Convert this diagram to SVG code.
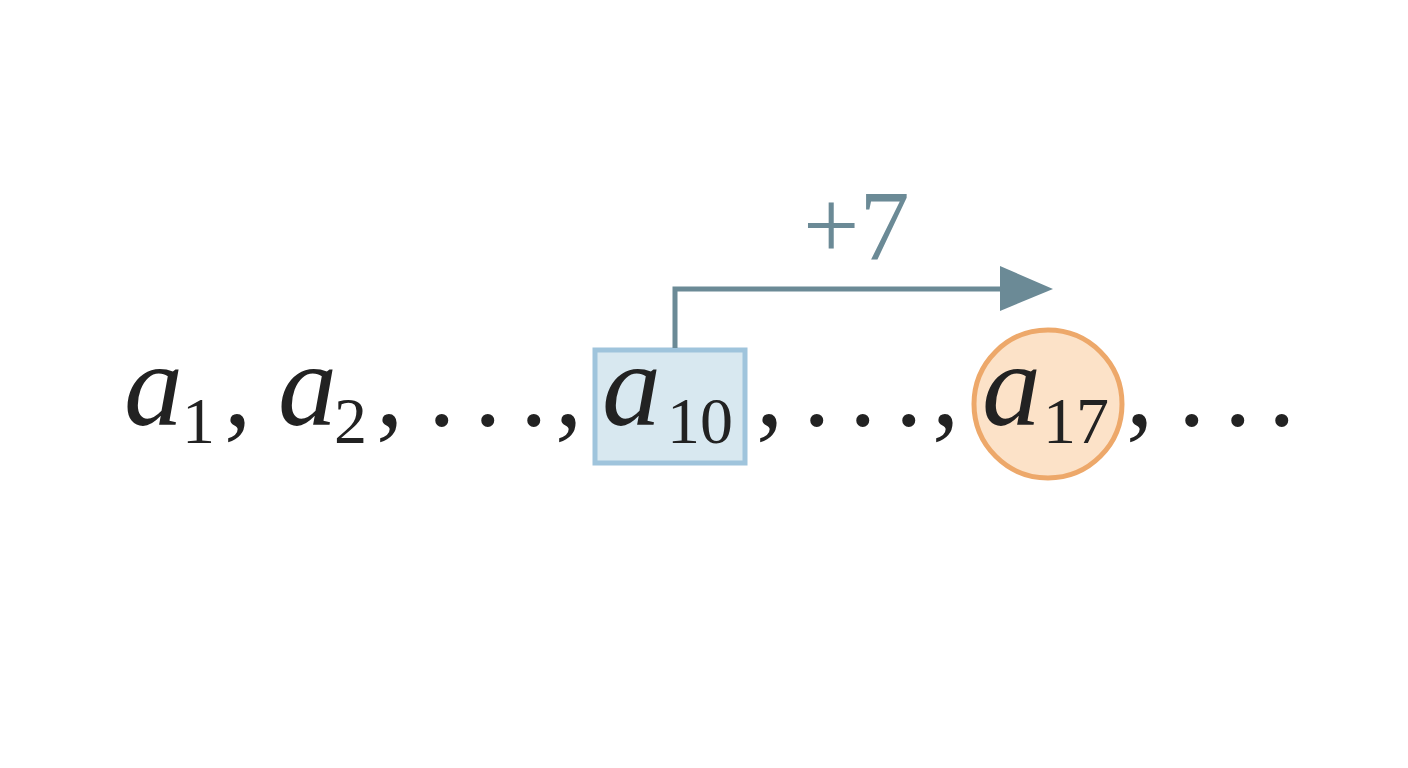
<svg xmlns="http://www.w3.org/2000/svg" width="1408" height="768" viewBox="0 0 1408 768">
<style>
.v{font-family:"Liberation Serif",serif;font-style:italic;font-size:118px;fill:#222}
.s{font-family:"Liberation Serif",serif;font-size:66px;fill:#222}
.p{font-family:"Liberation Serif",serif;font-size:110px;fill:#222}
</style>
<rect width="1408" height="768" fill="#fff"/>
<g id="box"><rect x="595" y="350" width="150" height="113" fill="#d8e8f0" stroke="#9fc4dc" stroke-width="5"/></g>
<g id="circle"><circle cx="1048" cy="404" r="74" fill="#fce2c8" stroke="#eda86a" stroke-width="5"/></g>
<g id="connectors">
<polyline points="675,348 675,289 1008,289" fill="none" stroke="#6b8a96" stroke-width="5"/>
<polygon points="1000,266 1053,289 1000,311" fill="#6b8a96"/>
<text x="803" y="259" font-family="Liberation Serif,serif" font-size="100" fill="#6b8a96">+7</text>
</g>
<g id="seq">
<text class="v" x="124" y="425">a</text><text class="s" x="182" y="443">1</text><text class="p" x="224" y="425">,</text>
<text class="v" x="278" y="425">a</text><text class="s" x="334" y="443">2</text><text class="p" x="376" y="425">,</text>
<text class="p" x="428" y="425">.</text><text class="p" x="474" y="425">.</text><text class="p" x="520" y="425">.</text><text class="p" x="555" y="425">,</text>
<text class="v" x="602" y="425">a</text><text class="s" x="667" y="443">10</text><text class="p" x="756" y="425">,</text>
<text class="p" x="803" y="425">.</text><text class="p" x="849" y="425">.</text><text class="p" x="895" y="425">.</text><text class="p" x="932" y="425">,</text>
<text class="v" x="982" y="425">a</text><text class="s" x="1043" y="443">17</text><text class="p" x="1126" y="425">,</text>
<text class="p" x="1178" y="425">.</text><text class="p" x="1224" y="425">.</text><text class="p" x="1268" y="425">.</text>
</g>
</svg>
